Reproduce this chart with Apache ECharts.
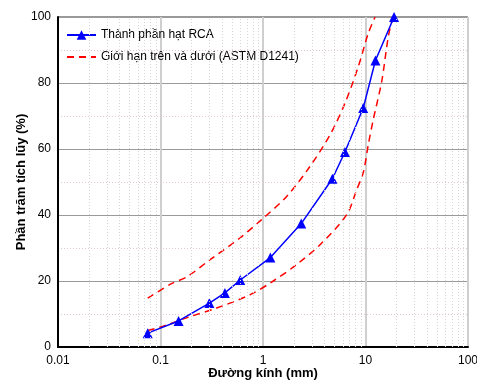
<!DOCTYPE html>
<html><head><meta charset="utf-8">
<script src="https://cdn.jsdelivr.net/npm/echarts@6/dist/echarts.min.js"></script>
<style>html,body{margin:0;padding:0;background:#fff}#c{width:477px;height:385px}</style>
</head><body><div id="c"></div>
<script>
const rcaSize = [0.075, 0.15, 0.3, 0.425, 0.6, 1.18, 2.36, 4.75, 6.3, 9.5, 12.5, 19];
const rcaPass = [4.2, 7.9, 13.3, 16.4, 20.3, 27.1, 37.4, 51, 59.1, 72.4, 86.8, 100];
const upperSize = [0.075, 0.128, 0.18, 0.3, 0.6, 0.97, 1.7, 2.87, 4.51, 6.31, 8.51, 10.65, 12.4];
const upperPass = [14.8, 19.2, 21.2, 26.3, 33.1, 38.6, 45.6, 54.7, 64.3, 73.9, 85, 95.1, 100];
const lowerSize = [0.075, 0.106, 0.194, 0.353, 0.746, 1.26, 2.13, 3.6, 6.56, 8.21, 9.52, 10.65, 11.9, 14.4, 16.7, 18.5];
const lowerPass = [5, 6.3, 9.2, 11.8, 15.8, 20, 25, 31, 40.1, 47.7, 52.9, 61.3, 68.9, 80.5, 94.1, 100];
const xTicks = [0.01, 0.1, 1, 10, 100];
const yTicks = [0, 20, 40, 60, 80, 100];

const zip = (a, b) => a.map((v, i) => [v, b[i]]);
const minorX = [];
for (let d = 0.01; d < 100; d *= 10) for (let k = 2; k <= 9; k++) minorX.push({xAxis: +(d * k).toPrecision(3)});
const font = 'Liberation Sans, Arial, sans-serif';
const limitName = 'Giới hạn trên và dưới (ASTM D1241)';

const chart = echarts.init(document.getElementById('c'), null, {renderer: 'canvas'});
chart.setOption({
  animation: false,
  backgroundColor: '#fff',
  grid: {left: 58, top: 17, right: 9, bottom: 38, outerBoundsMode: 'none', containLabel: false,
    show: true, borderColor: '#333', borderWidth: 1, backgroundColor: 'transparent'},
  legend: {
    left: 66, top: 29, padding: 0, orient: 'vertical', itemWidth: 29, itemHeight: 12, itemGap: 10,
    textStyle: {fontFamily: font, fontSize: 12, color: '#000'},
    data: [{name: 'Thành phần hạt RCA'}, {name: limitName, itemStyle: {color: 'rgba(0,0,0,0)', borderWidth: 0, opacity: 0}}]
  },
  xAxis: {
    type: 'log', logBase: 10, min: xTicks[0], max: xTicks[xTicks.length - 1],
    name: 'Đường kính (mm)', nameLocation: 'middle', nameGap: 20, nameMoveOverlap: false,
    nameTextStyle: {fontFamily: font, fontSize: 13, fontWeight: 'bold', color: '#000', verticalAlign: 'top'},
    axisLine: {show: true, onZero: false, lineStyle: {color: '#000', width: 2}},
    axisTick: {show: false},
    axisLabel: {fontFamily: font, fontSize: 12, color: '#000', margin: 8,
      formatter: v => { const t = xTicks.find(x => Math.abs(x - v) / x < 1e-6); return t !== undefined ? String(t) : ''; }},
    splitLine: {show: true, lineStyle: {color: '#cfcfcf', width: 2}}
  },
  yAxis: {
    type: 'value', min: 0, max: 100, interval: 20,
    name: 'Phần trăm tích lũy (%)', nameLocation: 'middle', nameGap: 30, nameMoveOverlap: false,
    nameTextStyle: {fontFamily: font, fontSize: 13, fontWeight: 'bold', color: '#000'},
    axisLine: {show: true, lineStyle: {color: '#000', width: 2}},
    axisTick: {show: false},
    axisLabel: {fontFamily: font, fontSize: 12, color: '#000', margin: 7},
    splitLine: {show: true, lineStyle: {color: '#9a9a9a', width: 1}},
    minorTick: {show: false, splitNumber: 2},
    minorSplitLine: {show: true, lineStyle: {color: '#e2c8c8', width: 1, type: [1, 2]}}
  },
  series: [
    {
      name: 'gridMinor', type: 'line', data: [], silent: true,
      markLine: {silent: true, symbol: 'none', label: {show: false},
        lineStyle: {color: '#d6d6d6', width: 1, type: [1, 2]}, data: minorX}
    },
    {
      name: limitName, type: 'line', data: zip(upperSize, upperPass), smooth: 0.3,
      showSymbol: false, symbol: 'none', z: 3,
      lineStyle: {color: '#ff0000', width: 1.5, type: [7, 5]}, itemStyle: {color: '#ff0000'}
    },
    {
      name: limitName, type: 'line', data: zip(lowerSize, lowerPass), smooth: 0.3,
      showSymbol: false, symbol: 'none', z: 3,
      lineStyle: {color: '#ff0000', width: 1.5, type: [7, 5]}, itemStyle: {color: '#ff0000'}
    },
    {
      name: 'Thành phần hạt RCA', type: 'line', data: zip(rcaSize, rcaPass),
      symbol: 'triangle', symbolSize: 10, z: 4,
      lineStyle: {color: '#0000ff', width: 1.5}, itemStyle: {color: '#0000ff'}
    }
  ]
});
</script></body></html>
